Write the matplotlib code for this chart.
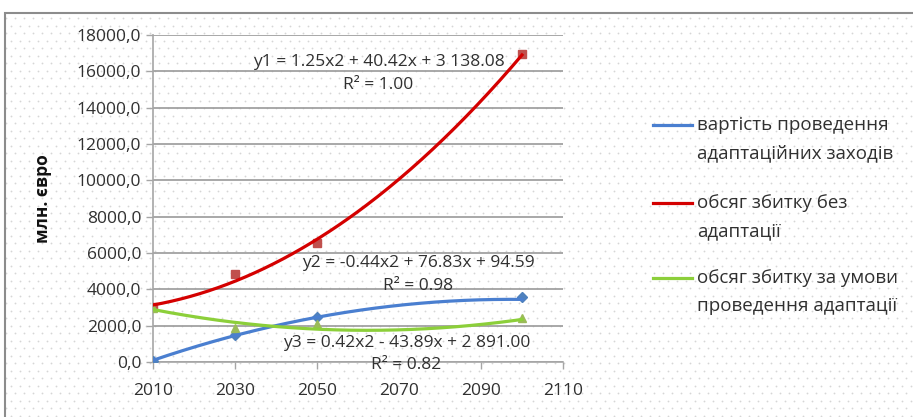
import numpy as np
import matplotlib.pyplot as plt
from matplotlib.lines import Line2D
from matplotlib.patches import Rectangle
from matplotlib.ticker import FuncFormatter

plt.rcParams['font.family'] = ['Open Sans', 'DejaVu Sans']

years = [2010, 2030, 2050, 2100]
cost_adapt = [50, 1500, 2480, 3560]
loss_no_adapt = [3050, 4850, 6550, 16950]
loss_adapt = [2950, 1850, 2100, 2400]

# polynomial trend coefficients (x = years since 2010)
trend_cost = [-0.44, 76.83, 94.59]
trend_no_adapt = [1.25, 40.42, 3138.08]
trend_adapt = [0.42, -43.89, 2891.00]

labels = ['вартість проведення\nадаптаційних заходів',
          'обсяг збитку без\nадаптації',
          'обсяг збитку за умови\nпроведення адаптації']
colors = ['#4a7fd0', '#d40000', '#8ccf3a']
marker_colors = ['#4f81bd', '#c0504d', '#9bbb59']
markers = ['D', 's', '^']

W, H = 913, 417
fig = plt.figure(figsize=(W / 100, H / 100), dpi=100)

# dotted chart-area fill
gx, gy = np.meshgrid(np.arange(6, W, 9), np.arange(18, H, 7.5))
gx = gx + (np.arange(gx.shape[0])[:, None] % 2) * 4.5
fig.add_artist(Line2D(gx.ravel() / W, 1 - gy.ravel() / H, ls='none', marker='o',
                      ms=1.3, mec='none', mfc='#d6d6d6', transform=fig.transFigure, zorder=0))
fig.add_artist(Rectangle((5 / W, -0.05), 1.0, 1 - 13 / H + 0.05, transform=fig.transFigure,
                         fill=False, ec='#8c8c8c', lw=1.5, zorder=1))

ax = fig.add_axes([153 / W, 1 - 362 / H, (563 - 153) / W, (362 - 35) / H])
ax.patch.set_alpha(0)

xs = np.linspace(2010, 2100, 200)
for vals, coef, c, mc, m in zip([cost_adapt, loss_no_adapt, loss_adapt],
                                [trend_cost, trend_no_adapt, trend_adapt],
                                colors, marker_colors, markers):
    ax.plot(years, vals, ls='none', marker=m, ms=6 if m != 'D' else 5, color=mc, zorder=3)
    ax.plot(xs, np.polyval(coef, xs - 2010), color=c, lw=2.3, zorder=4)

ax.set_xlim(2010, 2110)
ax.set_ylim(0, 18000)
ax.set_xticks(np.arange(2010, 2111, 20))
ax.set_yticks(np.arange(0, 18001, 2000))
ax.yaxis.set_major_formatter(FuncFormatter(lambda v, p: f'{v:.1f}'.replace('.', ',')))
ax.grid(axis='y', color='#9a9a9a', lw=1.2)
ax.set_axisbelow(True)
for s in ['top', 'right']:
    ax.spines[s].set_visible(False)
for s in ['left', 'bottom']:
    ax.spines[s].set_color('#a6a6a6')
    ax.spines[s].set_linewidth(1.2)
ax.tick_params(colors='#a6a6a6', labelcolor='#303030', labelsize=12.5, length=5, width=1)
ax.tick_params(axis='x', pad=10)
ax.set_ylabel('млн. євро', fontsize=12.5, fontweight='bold', color='#111111', labelpad=18)

eq_kw = dict(fontsize=12.5, color='#303030', ha='center', va='center', zorder=5)
ax.text(2065, 16500, 'y1 = 1.25x2 + 40.42x + 3 138.08', **eq_kw)
ax.text(2065, 15250, 'R² = 1.00', **eq_kw)
ax.text(2074.7, 5450, 'y2 = -0.44x2 + 76.83x + 94.59', **eq_kw)
ax.text(2074.7, 4200, 'R² = 0.98', **eq_kw)
ax.text(2071.8, 1060, 'y3 = 0.42x2 - 43.89x + 2 891.00', **eq_kw)
ax.text(2071.8, -190, 'R² = 0.82', **eq_kw)

# legend entries
for lab, c, y in zip(labels, colors, [125, 203, 278]):
    fig.add_artist(Line2D([653 / W, 692 / W], [1 - y / H] * 2, color=c, lw=2.3,
                          transform=fig.transFigure))
    fig.text(697 / W, 1 - (y - 9) / H, lab, fontsize=13.5, color='#303030',
             va='top', ha='left', linespacing=1.7)

fig.savefig('out.png', dpi=100)
